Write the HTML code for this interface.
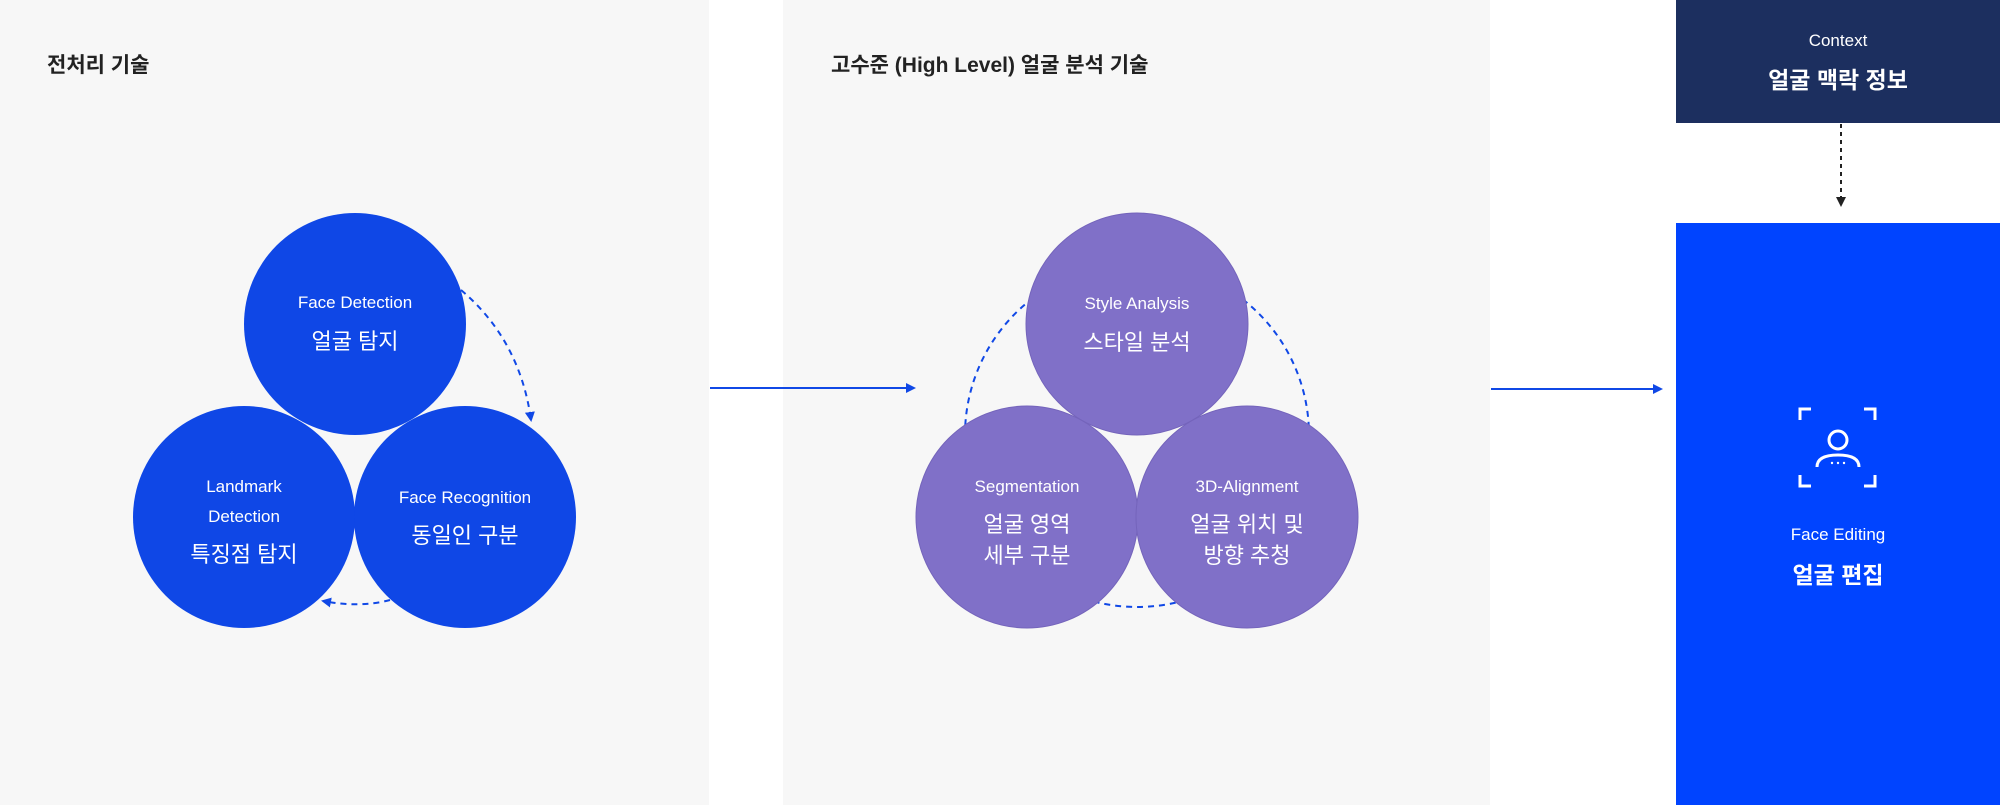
<!DOCTYPE html>
<html><head><meta charset="utf-8"><style>
body{margin:0;width:2000px;height:805px;background:#fff;overflow:hidden;font-family:"Liberation Sans","Noto Sans CJK KR",sans-serif;}
</style></head><body>
<svg width="2000" height="805" xmlns="http://www.w3.org/2000/svg" font-family="Liberation Sans, Noto Sans CJK KR, sans-serif">
<defs>
<marker id="ab" markerWidth="10" markerHeight="10" refX="8" refY="5" orient="auto" markerUnits="userSpaceOnUse"><path d="M0,0 L10,5 L0,10 z" fill="#1048e6"/></marker>
<marker id="ak" markerWidth="10" markerHeight="10" refX="8" refY="5" orient="auto" markerUnits="userSpaceOnUse"><path d="M0,0 L10,5 L0,10 z" fill="#222"/></marker>
</defs>
<rect x="0" y="0" width="709" height="805" fill="#f7f7f7"/>
<rect x="783" y="0" width="707" height="805" fill="#f7f7f7"/>
<text x="47" y="72" font-size="21" font-weight="bold" fill="#222">전처리 기술</text>
<text x="831" y="72" font-size="21" font-weight="bold" fill="#222">고수준 (High Level) 얼굴 분석 기술</text>

<!-- left dashed arcs -->
<path d="M461,290 Q520,340 531,420" fill="none" stroke="#1048e6" stroke-width="2" stroke-dasharray="6,5" marker-end="url(#ab)"/>
<path d="M390,600 Q360,608 323,601" fill="none" stroke="#1048e6" stroke-width="2" stroke-dasharray="6,5" marker-end="url(#ab)"/>
<g fill="#0f47e6">
<circle cx="355" cy="324" r="111"/><circle cx="244" cy="517" r="111"/><circle cx="465" cy="517" r="111"/>
</g>
<g fill="#fff" text-anchor="middle">
<text x="355" y="308" font-size="17">Face Detection</text>
<text x="355" y="349" font-size="22">얼굴 탐지</text>
<text x="244" y="492" font-size="17">Landmark</text>
<text x="244" y="522" font-size="17">Detection</text>
<text x="244" y="562" font-size="22">특징점 탐지</text>
<text x="465" y="503" font-size="17">Face Recognition</text>
<text x="465" y="543" font-size="22">동일인 구분</text>
</g>

<line x1="710" y1="388" x2="914" y2="388" stroke="#1048e6" stroke-width="2" marker-end="url(#ab)"/>
<line x1="1491" y1="389" x2="1661" y2="389" stroke="#1048e6" stroke-width="2" marker-end="url(#ab)"/>

<circle cx="1137" cy="435" r="172" fill="none" stroke="#1048e6" stroke-width="2" stroke-dasharray="6,5"/>
<g fill="#8070c8" stroke="#7464bb" stroke-width="1">
<circle cx="1137" cy="324" r="111"/><circle cx="1027" cy="517" r="111"/><circle cx="1247" cy="517" r="111"/>
</g>
<g fill="#fff" text-anchor="middle">
<text x="1137" y="309" font-size="17">Style Analysis</text>
<text x="1137" y="350" font-size="22">스타일 분석</text>
<text x="1027" y="492" font-size="17">Segmentation</text>
<text x="1027" y="532" font-size="22">얼굴 영역</text>
<text x="1027" y="563" font-size="22">세부 구분</text>
<text x="1247" y="492" font-size="17">3D-Alignment</text>
<text x="1247" y="532" font-size="22">얼굴 위치 및</text>
<text x="1247" y="563" font-size="22">방향 추청</text>
</g>

<rect x="1676" y="0" width="324" height="123" fill="#1c2f5f"/>
<text x="1838" y="46" font-size="17" fill="#fff" text-anchor="middle">Context</text>
<text x="1838" y="88" font-size="23" font-weight="bold" fill="#fff" text-anchor="middle">얼굴 맥락 정보</text>
<line x1="1841" y1="124" x2="1841" y2="205" stroke="#222" stroke-width="2" stroke-dasharray="4,4" marker-end="url(#ak)"/>

<rect x="1676" y="223" width="324" height="582" fill="#0044ff"/>
<g fill="none" stroke="#fff" stroke-width="3">
<path d="M1800,420 V409 H1811"/><path d="M1864,409 H1875 V420"/>
<path d="M1800,475 V486 H1811"/><path d="M1864,486 H1875 V475"/>
<circle cx="1838" cy="440" r="9"/>
<path d="M1817,467 Q1817,455 1838,455 Q1859,455 1859,467"/>
</g>
<g fill="#fff"><circle cx="1832" cy="463" r="1.2"/><circle cx="1838" cy="463" r="1.2"/><circle cx="1844" cy="463" r="1.2"/></g>
<text x="1838" y="540" font-size="17" fill="#fff" text-anchor="middle">Face Editing</text>
<text x="1838" y="583" font-size="23" font-weight="bold" fill="#fff" text-anchor="middle">얼굴 편집</text>
</svg>
</body></html>
